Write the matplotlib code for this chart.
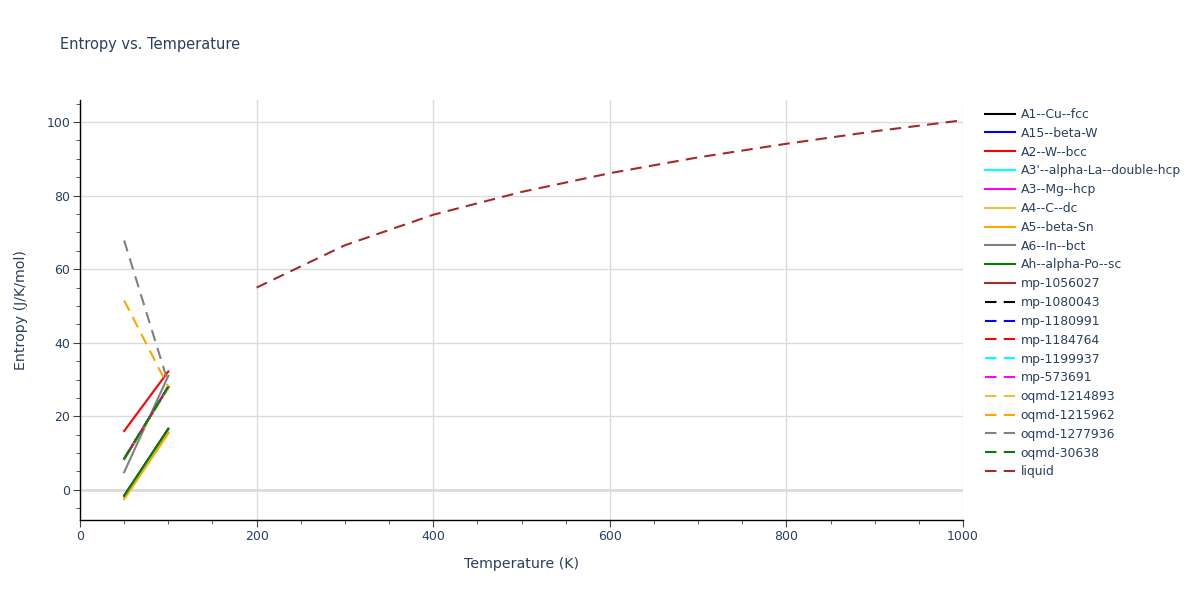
import matplotlib
matplotlib.use('Agg')
from matplotlib import pyplot as plt
from matplotlib.ticker import MultipleLocator

plt.rcParams['font.family'] = ['DejaVu Sans']

# phase curves
t_phase = [50, 100]
labels = ["A1--Cu--fcc", "A15--beta-W", "A2--W--bcc", "A3'--alpha-La--double-hcp",
          "A3--Mg--hcp", "A4--C--dc", "A5--beta-Sn", "A6--In--bct", "Ah--alpha-Po--sc",
          "mp-1056027", "mp-1080043", "mp-1180991", "mp-1184764", "mp-1199937",
          "mp-573691", "oqmd-1214893", "oqmd-1215962", "oqmd-1277936", "oqmd-30638"]
a1_cu_fcc = [-1.6, 16.6]
a15_beta_w = [8.4, 28.0]
a2_w_bcc = [16.0, 32.2]
a3p_alpha_la = [8.4, 28.0]
a3_mg_hcp = [8.4, 28.0]
a4_c_dc = [-2.6, 15.3]
a5_beta_sn = [-2.2, 15.6]
a6_in_bct = [4.8, 31.0]
ah_alpha_po = [-1.6, 16.6]
mp_1056027 = [8.4, 28.0]
mp_1080043 = [8.4, 28.0]
mp_1180991 = [8.4, 28.0]
mp_1184764 = [8.4, 28.0]
mp_1199937 = [8.4, 28.0]
mp_573691 = [8.4, 28.0]
oqmd_1214893 = [8.2, 27.6]
oqmd_1215962 = [51.5, 28.0]
oqmd_1277936 = [67.8, 29.0]
oqmd_30638 = [8.4, 28.0]

t_liquid = [200, 300, 400, 500, 600, 700, 800, 900, 1000]
s_liquid = [55.0, 66.5, 74.8, 81.0, 86.1, 90.4, 94.1, 97.5, 100.5]

series = [a1_cu_fcc, a15_beta_w, a2_w_bcc, a3p_alpha_la, a3_mg_hcp, a4_c_dc,
          a5_beta_sn, a6_in_bct, ah_alpha_po, mp_1056027, mp_1080043, mp_1180991,
          mp_1184764, mp_1199937, mp_573691, oqmd_1214893, oqmd_1215962,
          oqmd_1277936, oqmd_30638]
colors = ['black', 'blue', 'red', 'cyan', 'magenta', '#e8c33a', 'orange', 'gray',
          'green', 'brown']

txt = '#2a3f5f'
fig = plt.figure(figsize=(12, 6), dpi=100)
ax = fig.add_axes([80/1200, 80/600, 883/1200, 420/600])

for i, (lab, s) in enumerate(zip(labels, series)):
    c = colors[i % 10]
    if i < 10:
        ax.plot(t_phase, s, color=c, lw=1.5, label=lab)
    else:
        ax.plot(t_phase, s, color=c, lw=1.5, dashes=(5.5, 3.5), label=lab)
ax.plot(t_liquid, s_liquid, color='brown', lw=1.5, dashes=(5.5, 3.5), label='liquid')

ax.set_xlim(0, 1000)
ax.set_ylim(-8.2, 106)
ax.xaxis.set_major_locator(MultipleLocator(200))
ax.xaxis.set_minor_locator(MultipleLocator(50))
ax.yaxis.set_major_locator(MultipleLocator(20))
ax.yaxis.set_minor_locator(MultipleLocator(5))
ax.grid(True, which='major', color='#dcdcdc', lw=1)
ax.axhline(0, color='#dcdcdc', lw=2, zorder=0.5)
ax.set_axisbelow(True)
for sp in ['top', 'right']:
    ax.spines[sp].set_visible(False)
for sp in ['left', 'bottom']:
    ax.spines[sp].set_color('black')
    ax.spines[sp].set_linewidth(1)
ax.tick_params(which='major', length=5, color='#444444', labelcolor=txt, labelsize=9, pad=2)
ax.tick_params(which='minor', length=3, color='#444444')
ax.set_xlabel('Temperature (K)', fontsize=10.2, color=txt, labelpad=10)
ax.set_ylabel('Entropy (J/K/mol)', fontsize=10.2, color=txt, labelpad=13)
fig.text(60/1200, 1 - 45/600, 'Entropy vs. Temperature', fontsize=10.5, color=txt, va='center')

leg = ax.legend(loc='upper left', bbox_to_anchor=(985/1200, 1 - 108/600),
                bbox_transform=fig.transFigure, frameon=False, fontsize=8.9,
                handlelength=2.4, handletextpad=0.5, labelspacing=0.47,
                borderaxespad=0, borderpad=0)
for t in leg.get_texts():
    t.set_color(txt)

plt.savefig('out.png')
